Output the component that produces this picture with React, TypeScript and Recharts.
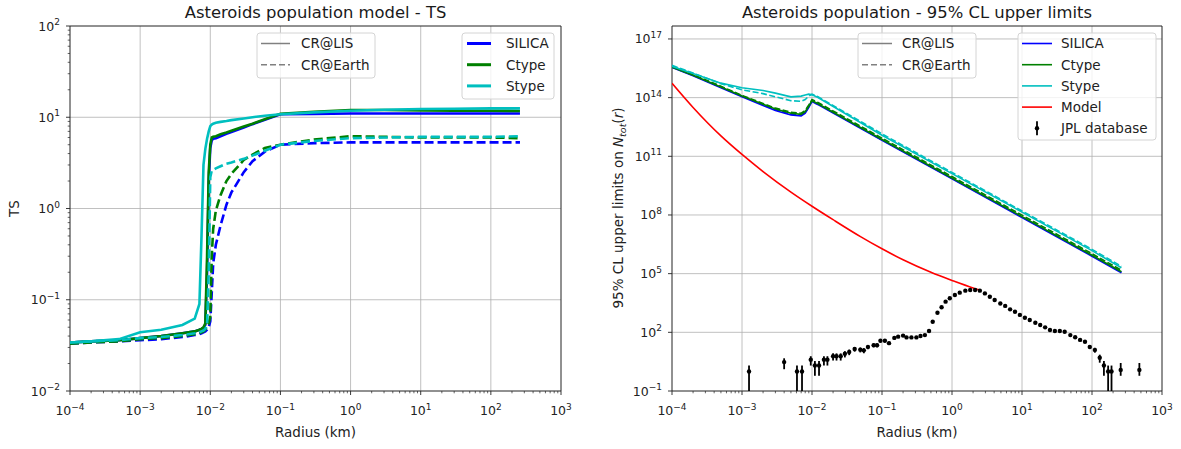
import React from 'react';
import { ComposedChart, Line, Scatter, ErrorBar, XAxis, YAxis, CartesianGrid, ReferenceArea } from 'recharts';

const FONT = '"DejaVu Sans", Verdana, sans-serif';
const BLUE = '#0000ff';
const GREEN = '#008000';
const CYAN = '#00bfbf';
const RED = '#ff0000';
const GRAY = '#808080';

// axis decades
const radiusDecades = [1e-4, 1e-3, 1e-2, 1e-1, 1, 10, 100, 1000];
const tsDecades = [1e-2, 1e-1, 1, 10, 100];
const limitDecades = [1e-1, 1e2, 1e5, 1e8, 1e11, 1e14, 1e17];

// ---- left panel: TS vs radius (km)
const tsRadius = [1e-4, 2e-4, 5e-4, 1e-3, 2e-3, 4e-3, 6e-3, 7e-3, 7.5e-3, 8e-3, 8.5e-3, 9e-3, 9.5e-3, 1e-2, 1.05e-2, 1.1e-2, 1.2e-2, 1.4e-2, 1.7e-2, 2e-2, 3e-2, 4e-2, 6e-2, 0.1, 0.3, 1, 3, 10, 30, 100, 260];
const tsSilicaLis = [0.034, 0.035, 0.036, 0.038, 0.04, 0.043, 0.045, 0.047, 0.048, 0.049, 0.053, 0.2, 2.0, 4.6, 5.6, 5.8, 5.9, 6.2, 6.6, 6.9, 7.7, 8.4, 9.4, 10.8, 10.9, 11.0, 11.0, 11.0, 11.0, 11.0, 11.0];
const tsCtypeLis = [0.034, 0.035, 0.036, 0.038, 0.04, 0.043, 0.045, 0.047, 0.048, 0.05, 0.055, 0.3, 2.5, 5.0, 6.0, 6.1, 6.2, 6.5, 6.8, 7.1, 7.9, 8.5, 9.5, 10.9, 11.5, 12.0, 12.0, 11.9, 11.8, 11.8, 11.7];
const tsStypeLis = [0.034, 0.035, 0.037, 0.044, 0.047, 0.053, 0.062, 0.09, 0.5, 3.0, 4.5, 5.8, 7.0, 8.0, 8.3, 8.5, 8.7, 8.9, 9.1, 9.3, 9.7, 10.0, 10.4, 10.8, 11.3, 11.8, 12.1, 12.3, 12.4, 12.5, 12.5];
const tsSilicaEarth = [0.033, 0.034, 0.035, 0.036, 0.037, 0.039, 0.041, 0.042, 0.043, 0.044, 0.045, 0.047, 0.05, 0.058, 0.12, 0.25, 0.4, 0.65, 1.1, 1.5, 2.5, 3.3, 4.2, 5.0, 5.2, 5.3, 5.3, 5.3, 5.3, 5.3, 5.3];
const tsCtypeEarth = [0.033, 0.034, 0.035, 0.037, 0.038, 0.04, 0.042, 0.043, 0.044, 0.045, 0.047, 0.05, 0.055, 0.065, 0.3, 0.6, 0.95, 1.4, 2.0, 2.4, 3.4, 3.9, 4.6, 5.0, 5.7, 6.2, 6.1, 6.0, 6.0, 6.0, 5.9];
const tsStypeEarth = [0.034, 0.035, 0.036, 0.038, 0.039, 0.041, 0.043, 0.044, 0.045, 0.046, 0.048, 0.052, 0.2, 2.2, 2.6, 2.65, 2.75, 2.9, 3.1, 3.2, 3.5, 3.8, 4.3, 5.0, 5.5, 5.9, 6.0, 6.1, 6.1, 6.1, 6.2];

// ---- right panel: 95% CL upper limits on N_tot(r)
const ulRadius = [1e-4, 2e-4, 5e-4, 1e-3, 2e-3, 3e-3, 5e-3, 7e-3, 8e-3, 9e-3, 1e-2, 1.2e-2, 0.1, 1, 10, 100, 263];
const ulSilicaLis = [3.5e15, 1.3e15, 3.2e14, 1.1e14, 4e13, 2.2e13, 1.3e13, 1.15e13, 1.6e13, 3.2e13, 6.3e13, 4.5e13, 6.5e11, 7e9, 7.3e7, 7.8e5, 1.1e5];
const ulCtypeLis = [3.6e15, 1.4e15, 3.5e14, 1.2e14, 4.6e13, 2.6e13, 1.6e13, 1.4e13, 1.9e13, 3.7e13, 7e13, 5e13, 7.2e11, 7.8e9, 8.2e7, 8.8e5, 1.25e5];
const ulStypeLis = [4e15, 1.7e15, 5.5e14, 3.2e14, 2.3e14, 1.7e14, 1.1e14, 1.2e14, 1.35e14, 1.5e14, 1.4e14, 1.05e14, 1.2e12, 1.3e10, 1.4e8, 1.5e6, 2e5];
const ulSilicaEarth = [3.8e15, 1.4e15, 3.5e14, 1.2e14, 4.4e13, 2.4e13, 1.4e13, 1.25e13, 1.75e13, 3.5e13, 7e13, 5e13, 7e11, 7.6e9, 8e7, 8.5e5, 1.2e5];
const ulCtypeEarth = [4e15, 1.5e15, 3.8e14, 1.3e14, 5e13, 2.9e13, 1.8e13, 1.6e13, 2.2e13, 4.2e13, 8e13, 5.8e13, 8.5e11, 9.2e9, 9.8e7, 1.05e6, 1.5e5];
const ulStypeEarth = [4.5e15, 1.8e15, 5.2e14, 2.5e14, 1.6e14, 1.1e14, 7e13, 6.5e13, 8e13, 1.2e14, 1.5e14, 1.15e14, 1.4e12, 1.5e10, 1.6e8, 1.75e6, 2.4e5];

const modelRadius = [1e-4, 2e-4, 5e-4, 1e-3, 2e-3, 5e-3, 1e-2, 2e-2, 5e-2, 0.1, 0.2, 0.5, 1, 2, 2.5];
const modelN = [5.4e14, 3.13e13, 1.1e12, 1.24e11, 1.66e10, 1.48e9, 2.8e8, 5.75e7, 7.6e6, 1.86e6, 5.1e5, 1.17e5, 4.5e4, 1.86e4, 1.45e4];

const jplRadius = [1.26e-3, 4e-3, 6.1e-3, 7.2e-3, 9.6e-3, 1.1e-2, 1.26e-2, 1.48e-2, 1.66e-2, 2e-2, 2.24e-2, 2.57e-2, 2.95e-2, 3.4e-2, 4.07e-2, 4.9e-2, 5.5e-2, 6.3e-2, 7.6e-2, 8.5e-2, 9.5e-2, 0.11, 0.126, 0.15, 0.17, 0.2, 0.224, 0.263, 0.31, 0.355, 0.41, 0.47, 0.53, 0.62, 0.71, 0.81, 0.93, 1.1, 1.29, 1.55, 1.82, 2.14, 2.5, 2.95, 3.47, 4.07, 4.9, 5.75, 6.76, 7.94, 9.33, 11, 12.9, 15.5, 18.2, 21.4, 25.1, 29.5, 34.7, 40.7, 49, 57.5, 67.6, 79.4, 93, 110, 129, 148, 170, 190, 257, 475];
const jplN = [1, 3, 1, 1, 4, 2, 2, 4, 4, 6, 6, 6, 8, 10, 14, 13, 12, 18, 22, 22, 37, 37, 28, 52, 60, 68, 55, 55, 55, 65, 72, 117, 350, 1000, 1900, 3700, 5500, 8100, 10700, 13500, 14500, 14500, 13500, 9800, 6600, 4500, 3000, 2240, 1500, 1120, 780, 560, 430, 310, 235, 180, 132, 117, 117, 107, 72, 56, 41, 33, 18, 12.6, 5, 2, 1, 1, 1.2, 1.2];
// error bars reaching the bottom of the plot stop at the axis (0.1)
const jplErrLow = [0.9, 1.7, 0.9, 0.9, 2, 1.4, 1.4, 2, 2, 2.4, 2.4, 2.4, 2.8, 3.2, 3.7, 3.6, 3.5, 4.2, 4.7, 4.7, 6, 6, 5.3, 7, 7.7, 8.2, 7.4, 7.4, 7.4, 8, 8.5,
  0, 0, 0, 0, 0, 0, 0, 0, 0, 0, 0, 0, 0, 0, 0, 0, 0, 0, 0, 0, 0, 0, 0, 0, 0, 0, 0, 0, 0, 0, 0, 0, 0,
  4.2, 3.5, 2.2, 1.4, 0.9, 0.9, 0.6, 0.6];
const jplErrHigh = [1, 1.7, 1, 1, 2, 1.4, 1.4, 2, 2, 2.4, 2.4, 2.4, 2.8, 3.2, 3.7, 3.6, 3.5, 4.2, 4.7, 4.7, 6, 6, 5.3, 7, 7.7, 8.2, 7.4, 7.4, 7.4, 8, 8.5,
  0, 0, 0, 0, 0, 0, 0, 0, 0, 0, 0, 0, 0, 0, 0, 0, 0, 0, 0, 0, 0, 0, 0, 0, 0, 0, 0, 0, 0, 0, 0, 0, 0,
  4.2, 3.5, 2.2, 1.4, 1, 1, 1.5, 1.5];

const tsRows = tsRadius.map((r, i) => ({
  r,
  silicaLis: tsSilicaLis[i], ctypeLis: tsCtypeLis[i], stypeLis: tsStypeLis[i],
  silicaEarth: tsSilicaEarth[i], ctypeEarth: tsCtypeEarth[i], stypeEarth: tsStypeEarth[i],
}));
const ulRows = ulRadius.map((r, i) => ({
  r,
  silicaLis: ulSilicaLis[i], ctypeLis: ulCtypeLis[i], stypeLis: ulStypeLis[i],
  silicaEarth: ulSilicaEarth[i], ctypeEarth: ulCtypeEarth[i], stypeEarth: ulStypeEarth[i],
}));
const modelRows = modelRadius.map((r, i) => ({ r, model: modelN[i] }));
const jplRows = jplRadius.map((r, i) => ({ r, n: jplN[i], err: [jplErrLow[i], jplErrHigh[i]] }));

const withMinors = (decades: number[]) =>
  [...decades, ...decades.slice(0, -1).flatMap((d) => [2, 3, 4, 5, 6, 7, 8, 9].map((m) => m * d))].sort((a, b) => a - b);

const isDecade = (v: number) => Math.abs(Math.log10(v) - Math.round(Math.log10(v))) < 1e-6;
const expText = (v: number) => {
  const e = Math.round(Math.log10(v));
  return e < 0 ? '\u2212' + String(-e) : String(e);
};

function XTick(props: any) {
  const { x, y, payload } = props;
  const v = payload.value;
  if (!isDecade(v)) return <line x1={x} x2={x} y1={y} y2={y + 2.3} stroke="#222" strokeWidth={0.7} />;
  return (
    <g>
      <line x1={x} x2={x} y1={y} y2={y + 4} stroke="#222" strokeWidth={0.9} />
      <text x={x} y={y + 24} textAnchor="middle" fontFamily={FONT} fontSize={12.5} fill="#222">
        10<tspan dy={-5.5} fontSize={9}>{expText(v)}</tspan>
      </text>
    </g>
  );
}

function YTick(props: any) {
  const { x, y, payload } = props;
  const v = payload.value;
  if (!isDecade(v)) return <line x1={x - 2.3} x2={x} y1={y} y2={y} stroke="#222" strokeWidth={0.7} />;
  return (
    <g>
      <line x1={x - 4} x2={x} y1={y} y2={y} stroke="#222" strokeWidth={0.9} />
      <text x={x - 10} y={y + 4.5} textAnchor="end" fontFamily={FONT} fontSize={12.5} fill="#222">
        10<tspan dy={-5.5} fontSize={9}>{expText(v)}</tspan>
      </text>
    </g>
  );
}

type Row = { label: string; color: string; lw: number; dash?: string; jpl?: boolean };

function LegendBox({ x, y, w, h, hx, hl, tx, rows }: { x: number; y: number; w: number; h: number; hx: number; hl: number; tx: number; rows: Row[] }) {
  return (
    <g>
      <rect x={x} y={y} width={w} height={h} rx={3} fill="#fff" fillOpacity={0.8} stroke="#d4d4d4" strokeWidth={1} />
      {rows.map((r, i) => {
        const cy = y + 10.5 + i * 21.2;
        const mid = x + hx + hl / 2;
        return (
          <g key={r.label}>
            {r.jpl ? (
              <g>
                <line x1={mid} x2={mid} y1={cy - 7} y2={cy + 7} stroke="#000" strokeWidth={1.8} />
                <circle cx={mid} cy={cy} r={2.2} fill="#000" />
              </g>
            ) : (
              <line x1={x + hx} x2={x + hx + hl} y1={cy} y2={cy} stroke={r.color} strokeWidth={r.lw} strokeDasharray={r.dash} />
            )}
            <text x={x + tx} y={cy + 4.8} fontFamily={FONT} fontSize={13.5} fill="#222">{r.label}</text>
          </g>
        );
      })}
    </g>
  );
}

const crRows: Row[] = [
  { label: 'CR@LIS', color: GRAY, lw: 1.5 },
  { label: 'CR@Earth', color: GRAY, lw: 1.5, dash: '6 3' },
];

export default function App() {
  const xTicks = withMinors(radiusDecades);
  const tsTicks = withMinors(tsDecades);
  const thick = 2.6;
  const thin = 1.6;

  return (
    <div style={{ position: 'absolute', left: 0, top: 0, width: 1181, height: 449, background: '#fff', overflow: 'hidden' }}>
      <div style={{ position: 'absolute', left: 0, top: 0 }}>
        <ComposedChart width={590} height={449} data={tsRows} margin={{ top: 26, right: 29, bottom: 28, left: 20 }}>
          <CartesianGrid verticalValues={radiusDecades.slice(1, -1)} horizontalValues={tsDecades.slice(1, -1)} stroke="#b0b0b0" strokeWidth={0.8} />
          <XAxis dataKey="r" type="number" scale="log" domain={[1e-4, 1e3]} allowDataOverflow ticks={xTicks} interval={0}
            tickSize={0} tickMargin={0} axisLine={false} tickLine={false} tick={(p: any) => <XTick {...p} />} height={30} />
          <YAxis type="number" scale="log" domain={[1e-2, 1e2]} allowDataOverflow ticks={tsTicks} interval={0}
            tickSize={0} tickMargin={0} axisLine={false} tickLine={false} tick={(p: any) => <YTick {...p} />} width={50} />
          <Line dataKey="silicaLis" stroke={BLUE} strokeWidth={thick} dot={false} type="linear" isAnimationActive={false} />
          <Line dataKey="silicaEarth" stroke={BLUE} strokeWidth={thick} strokeDasharray="9 4" dot={false} type="linear" isAnimationActive={false} />
          <Line dataKey="ctypeLis" stroke={GREEN} strokeWidth={thick} dot={false} type="linear" isAnimationActive={false} />
          <Line dataKey="ctypeEarth" stroke={GREEN} strokeWidth={thick} strokeDasharray="9 4" dot={false} type="linear" isAnimationActive={false} />
          <Line dataKey="stypeLis" stroke={CYAN} strokeWidth={thick} dot={false} type="linear" isAnimationActive={false} />
          <Line dataKey="stypeEarth" stroke={CYAN} strokeWidth={thick} strokeDasharray="9 4" dot={false} type="linear" isAnimationActive={false} />
          <ReferenceArea x1={1e-4} x2={1e3} y1={1e-2} y2={1e2} fill="none" stroke="#222" strokeWidth={1} ifOverflow="visible" />
        </ComposedChart>
      </div>

      <div style={{ position: 'absolute', left: 590, top: 0 }}>
        <ComposedChart width={591} height={449} margin={{ top: 26, right: 19, bottom: 28, left: 22 }}>
          <CartesianGrid verticalValues={radiusDecades.slice(1, -1)} horizontalValues={limitDecades.slice(1)} stroke="#b0b0b0" strokeWidth={0.8} />
          <XAxis dataKey="r" type="number" scale="log" domain={[1e-4, 1e3]} allowDataOverflow ticks={xTicks} interval={0}
            tickSize={0} tickMargin={0} axisLine={false} tickLine={false} tick={(p: any) => <XTick {...p} />} height={30} />
          <YAxis type="number" scale="log" domain={[1e-1, 4.6e17]} allowDataOverflow ticks={limitDecades} interval={0}
            tickSize={0} tickMargin={0} axisLine={false} tickLine={false} tick={(p: any) => <YTick {...p} />} width={60} />
          <Line data={ulRows} dataKey="silicaLis" stroke={BLUE} strokeWidth={thin} dot={false} type="linear" isAnimationActive={false} />
          <Line data={ulRows} dataKey="silicaEarth" stroke={BLUE} strokeWidth={thin} strokeDasharray="6 2.5" dot={false} type="linear" isAnimationActive={false} />
          <Line data={ulRows} dataKey="ctypeLis" stroke={GREEN} strokeWidth={thin} dot={false} type="linear" isAnimationActive={false} />
          <Line data={ulRows} dataKey="ctypeEarth" stroke={GREEN} strokeWidth={thin} strokeDasharray="6 2.5" dot={false} type="linear" isAnimationActive={false} />
          <Line data={ulRows} dataKey="stypeLis" stroke={CYAN} strokeWidth={thin} dot={false} type="linear" isAnimationActive={false} />
          <Line data={ulRows} dataKey="stypeEarth" stroke={CYAN} strokeWidth={thin} strokeDasharray="6 2.5" dot={false} type="linear" isAnimationActive={false} />
          <Line data={modelRows} dataKey="model" stroke={RED} strokeWidth={thin} dot={false} type="monotone" isAnimationActive={false} />
          <Scatter data={jplRows} dataKey="n" fill="#000" isAnimationActive={false}
            shape={(p: any) => <circle cx={p.cx} cy={p.cy} r={2.2} fill="#000" />}>
            <ErrorBar dataKey="err" direction="y" width={0} stroke="#000" strokeWidth={1.8} isAnimationActive={false} />
          </Scatter>
          <ReferenceArea x1={1e-4} x2={1e3} y1={1e-1} y2={4.6e17} fill="none" stroke="#222" strokeWidth={1} ifOverflow="visible" />
        </ComposedChart>
      </div>

      <svg width={1181} height={449} style={{ position: 'absolute', left: 0, top: 0, pointerEvents: 'none' }} fontFamily={FONT}>
        <text x={315.5} y={17.5} textAnchor="middle" fontSize={16.4} fill="#1a1a1a">Asteroids population model - TS</text>
        <text x={917} y={17.5} textAnchor="middle" fontSize={16.4} fill="#1a1a1a">Asteroids population - 95% CL upper limits</text>
        <text x={315.5} y={437} textAnchor="middle" fontSize={13.5} fill="#222">Radius (km)</text>
        <text x={917} y={437} textAnchor="middle" fontSize={13.5} fill="#222">Radius (km)</text>
        <text transform="translate(18.5,208.5) rotate(-90)" textAnchor="middle" fontSize={13.5} fill="#222">TS</text>
        <text transform="translate(623,208) rotate(-90)" textAnchor="middle" fontSize={13.5} fill="#222">
          95% CL upper limits on <tspan fontStyle="italic">N</tspan>
          <tspan fontStyle="italic" fontSize={9.5} dy={3}>tot</tspan>
          <tspan dy={-3}>(</tspan><tspan fontStyle="italic">r</tspan>)
        </text>

        <LegendBox x={257} y={33} w={118} h={45} hx={4} hl={29} tx={44} rows={crRows} />
        <LegendBox x={462} y={33} w={92} h={66} hx={5} hl={24} tx={44} rows={[
          { label: 'SILICA', color: BLUE, lw: 3 },
          { label: 'Ctype', color: GREEN, lw: 3 },
          { label: 'Stype', color: CYAN, lw: 3 },
        ]} />
        <LegendBox x={858} y={33} w={118} h={45} hx={4} hl={30} tx={44} rows={crRows} />
        <LegendBox x={1018} y={33} w={138} h={107} hx={4} hl={30} tx={43} rows={[
          { label: 'SILICA', color: BLUE, lw: 1.6 },
          { label: 'Ctype', color: GREEN, lw: 1.6 },
          { label: 'Stype', color: CYAN, lw: 1.6 },
          { label: 'Model', color: RED, lw: 1.6 },
          { label: 'JPL database', color: '#000', lw: 1.6, jpl: true },
        ]} />
      </svg>
    </div>
  );
}
